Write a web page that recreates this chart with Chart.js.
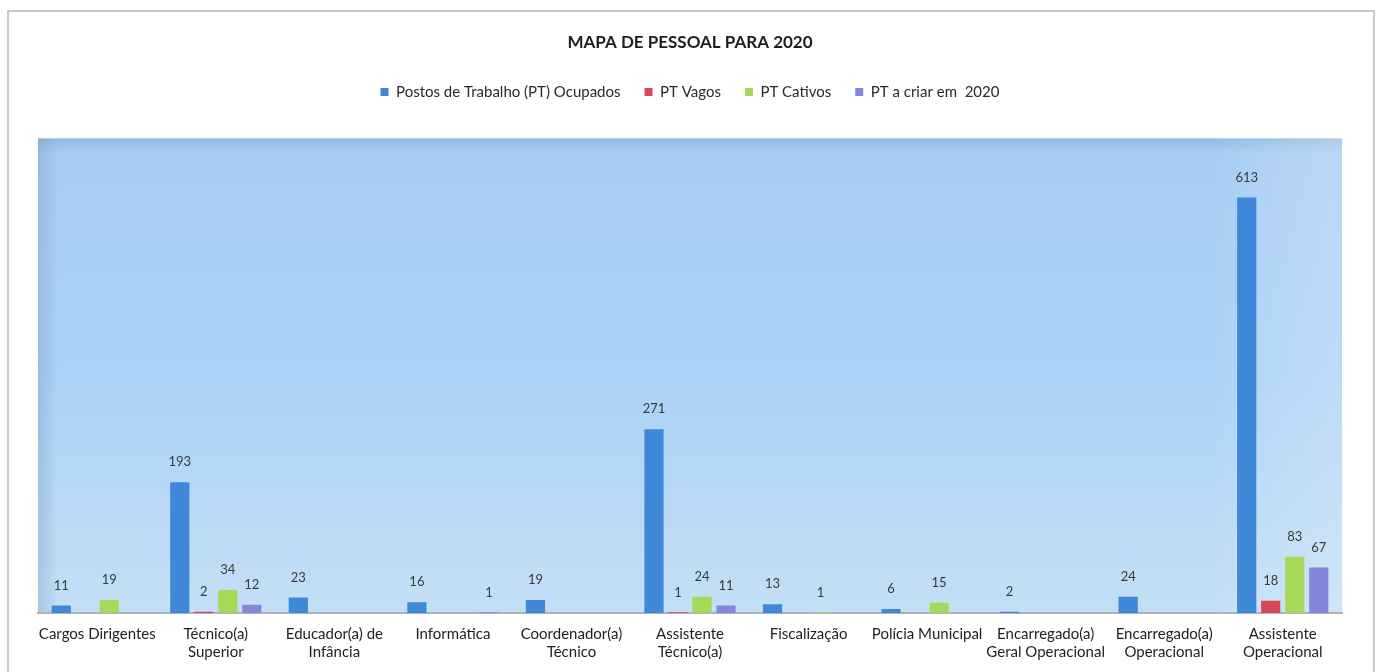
<!DOCTYPE html>
<html>
<head>
<meta charset="utf-8">
<script src="https://cdn.jsdelivr.net/npm/chart.js@4"></script>
<style>
  body { margin: 0; background: #fff; }
  #wrap { position: relative; width: 1377px; height: 672px; }
  #frame { position: absolute; left: 7px; top: 10px; width: 1364px; height: 700px;
           border: 2px solid #c9c9c9; pointer-events: none; }
</style>
</head>
<body>
<div id="wrap">
  <canvas id="chart" width="1377" height="672"></canvas>
  <div id="frame"></div>
</div>
<script>
// categories
var categorias = [
  'Cargos Dirigentes',
  ['Técnico(a)', 'Superior'],
  ['Educador(a) de', 'Infância'],
  'Informática',
  ['Coordenador(a)', 'Técnico'],
  ['Assistente', 'Técnico(a)'],
  'Fiscalização',
  'Polícia Municipal',
  ['Encarregado(a)', 'Geral Operacional'],
  ['Encarregado(a)', 'Operacional'],
  ['Assistente', 'Operacional']
];

// series values (null = no bar)
var ptOcupados = [11, 193, 23, 16, 19, 271, 13, 6, 2, 24, 613];
var ptVagos    = [null, 2, null, null, null, 1, null, null, null, null, 18];
var ptCativos  = [19, 34, null, null, null, 24, 1, 15, null, null, 83];
var ptCriar    = [null, 12, null, 1, null, 11, null, null, null, null, 67];

var fontFam = 'Lato, "Open Sans", sans-serif';

// extra room under the legend
var legendGap = {
  id: 'legendGap',
  beforeInit: function(chart) {
    var fit = chart.legend.fit;
    chart.legend.fit = function() {
      fit.bind(chart.legend)();
      this.height += 29;
    };
  }
};

// draws the shaded plot area
var plotBg = {
  id: 'plotBg',
  beforeDraw: function(chart) {
    var ctx = chart.ctx, a = chart.chartArea;
    ctx.save();
    var g = ctx.createLinearGradient(0, a.top, 0, a.bottom);
    g.addColorStop(0, '#94b9e2');
    g.addColorStop(0.03, '#a6ccf3');
    g.addColorStop(0.5, '#abd2f7');
    g.addColorStop(1, '#c4dff5');
    ctx.fillStyle = g;
    ctx.fillRect(a.left, a.top, a.right - a.left, a.bottom - a.top);
    var h = ctx.createLinearGradient(a.left, 0, a.right, 0);
    h.addColorStop(0, 'rgba(110,140,180,0.3)');
    h.addColorStop(0.015, 'rgba(110,140,180,0)');
    h.addColorStop(0.9, 'rgba(255,255,255,0)');
    h.addColorStop(1, 'rgba(230,240,250,0.3)');
    ctx.fillStyle = h;
    ctx.fillRect(a.left, a.top, a.right - a.left, a.bottom - a.top);
    ctx.restore();
  }
};

// value labels over the bars
var valueLabels = {
  id: 'valueLabels',
  afterDatasetsDraw: function(chart) {
    var ctx = chart.ctx;
    ctx.save();
    ctx.font = '13px ' + fontFam;
    ctx.fillStyle = '#3a3a3a';
    ctx.textAlign = 'center';
    ctx.textBaseline = 'middle';
    chart.data.datasets.forEach(function(ds, i) {
      var meta = chart.getDatasetMeta(i);
      meta.data.forEach(function(bar, j) {
        var v = ds.data[j];
        if (v === null || v === undefined) return;
        ctx.fillText(String(v), bar.x, bar.y - 20);
      });
    });
    ctx.restore();
  }
};

new Chart(document.getElementById('chart'), {
  type: 'bar',
  data: {
    labels: categorias,
    datasets: [
      { label: 'Postos de Trabalho (PT) Ocupados', data: ptOcupados, backgroundColor: '#3f88d8' },
      { label: 'PT Vagos', data: ptVagos, backgroundColor: '#d9485a' },
      { label: 'PT Cativos', data: ptCativos, backgroundColor: '#a6d85a' },
      { label: 'PT a criar em  2020', data: ptCriar, backgroundColor: '#8585dc' }
    ]
  },
  plugins: [legendGap, plotBg, valueLabels],
  options: {
    responsive: false,
    animation: false,
    datasets: { bar: { categoryPercentage: 0.81, barPercentage: 0.8 } },
    layout: { padding: { left: 38, right: 35, top: 31, bottom: 7 } },
    plugins: {
      tooltip: { enabled: false },
      title: {
        display: true,
        text: 'MAPA DE PESSOAL PARA 2020',
        color: '#1e1e1e',
        font: { family: fontFam, size: 17, weight: 'bold' },
        padding: { top: 1, bottom: 8 }
      },
      legend: {
        labels: {
          color: '#2a2a2a',
          font: { family: fontFam, size: 15 },
          boxWidth: 8,
          boxHeight: 8,
          padding: 24
        }
      }
    },
    scales: {
      x: {
        grid: { display: false },
        border: { color: '#a9b4bf', width: 2 },
        ticks: {
          color: '#1e1e1e',
          font: { family: fontFam, size: 15 },
          maxRotation: 0,
          autoSkip: false,
          padding: 4
        }
      },
      y: { display: false, min: 0, max: 700 }
    }
  }
});
</script>
</body>
</html>
